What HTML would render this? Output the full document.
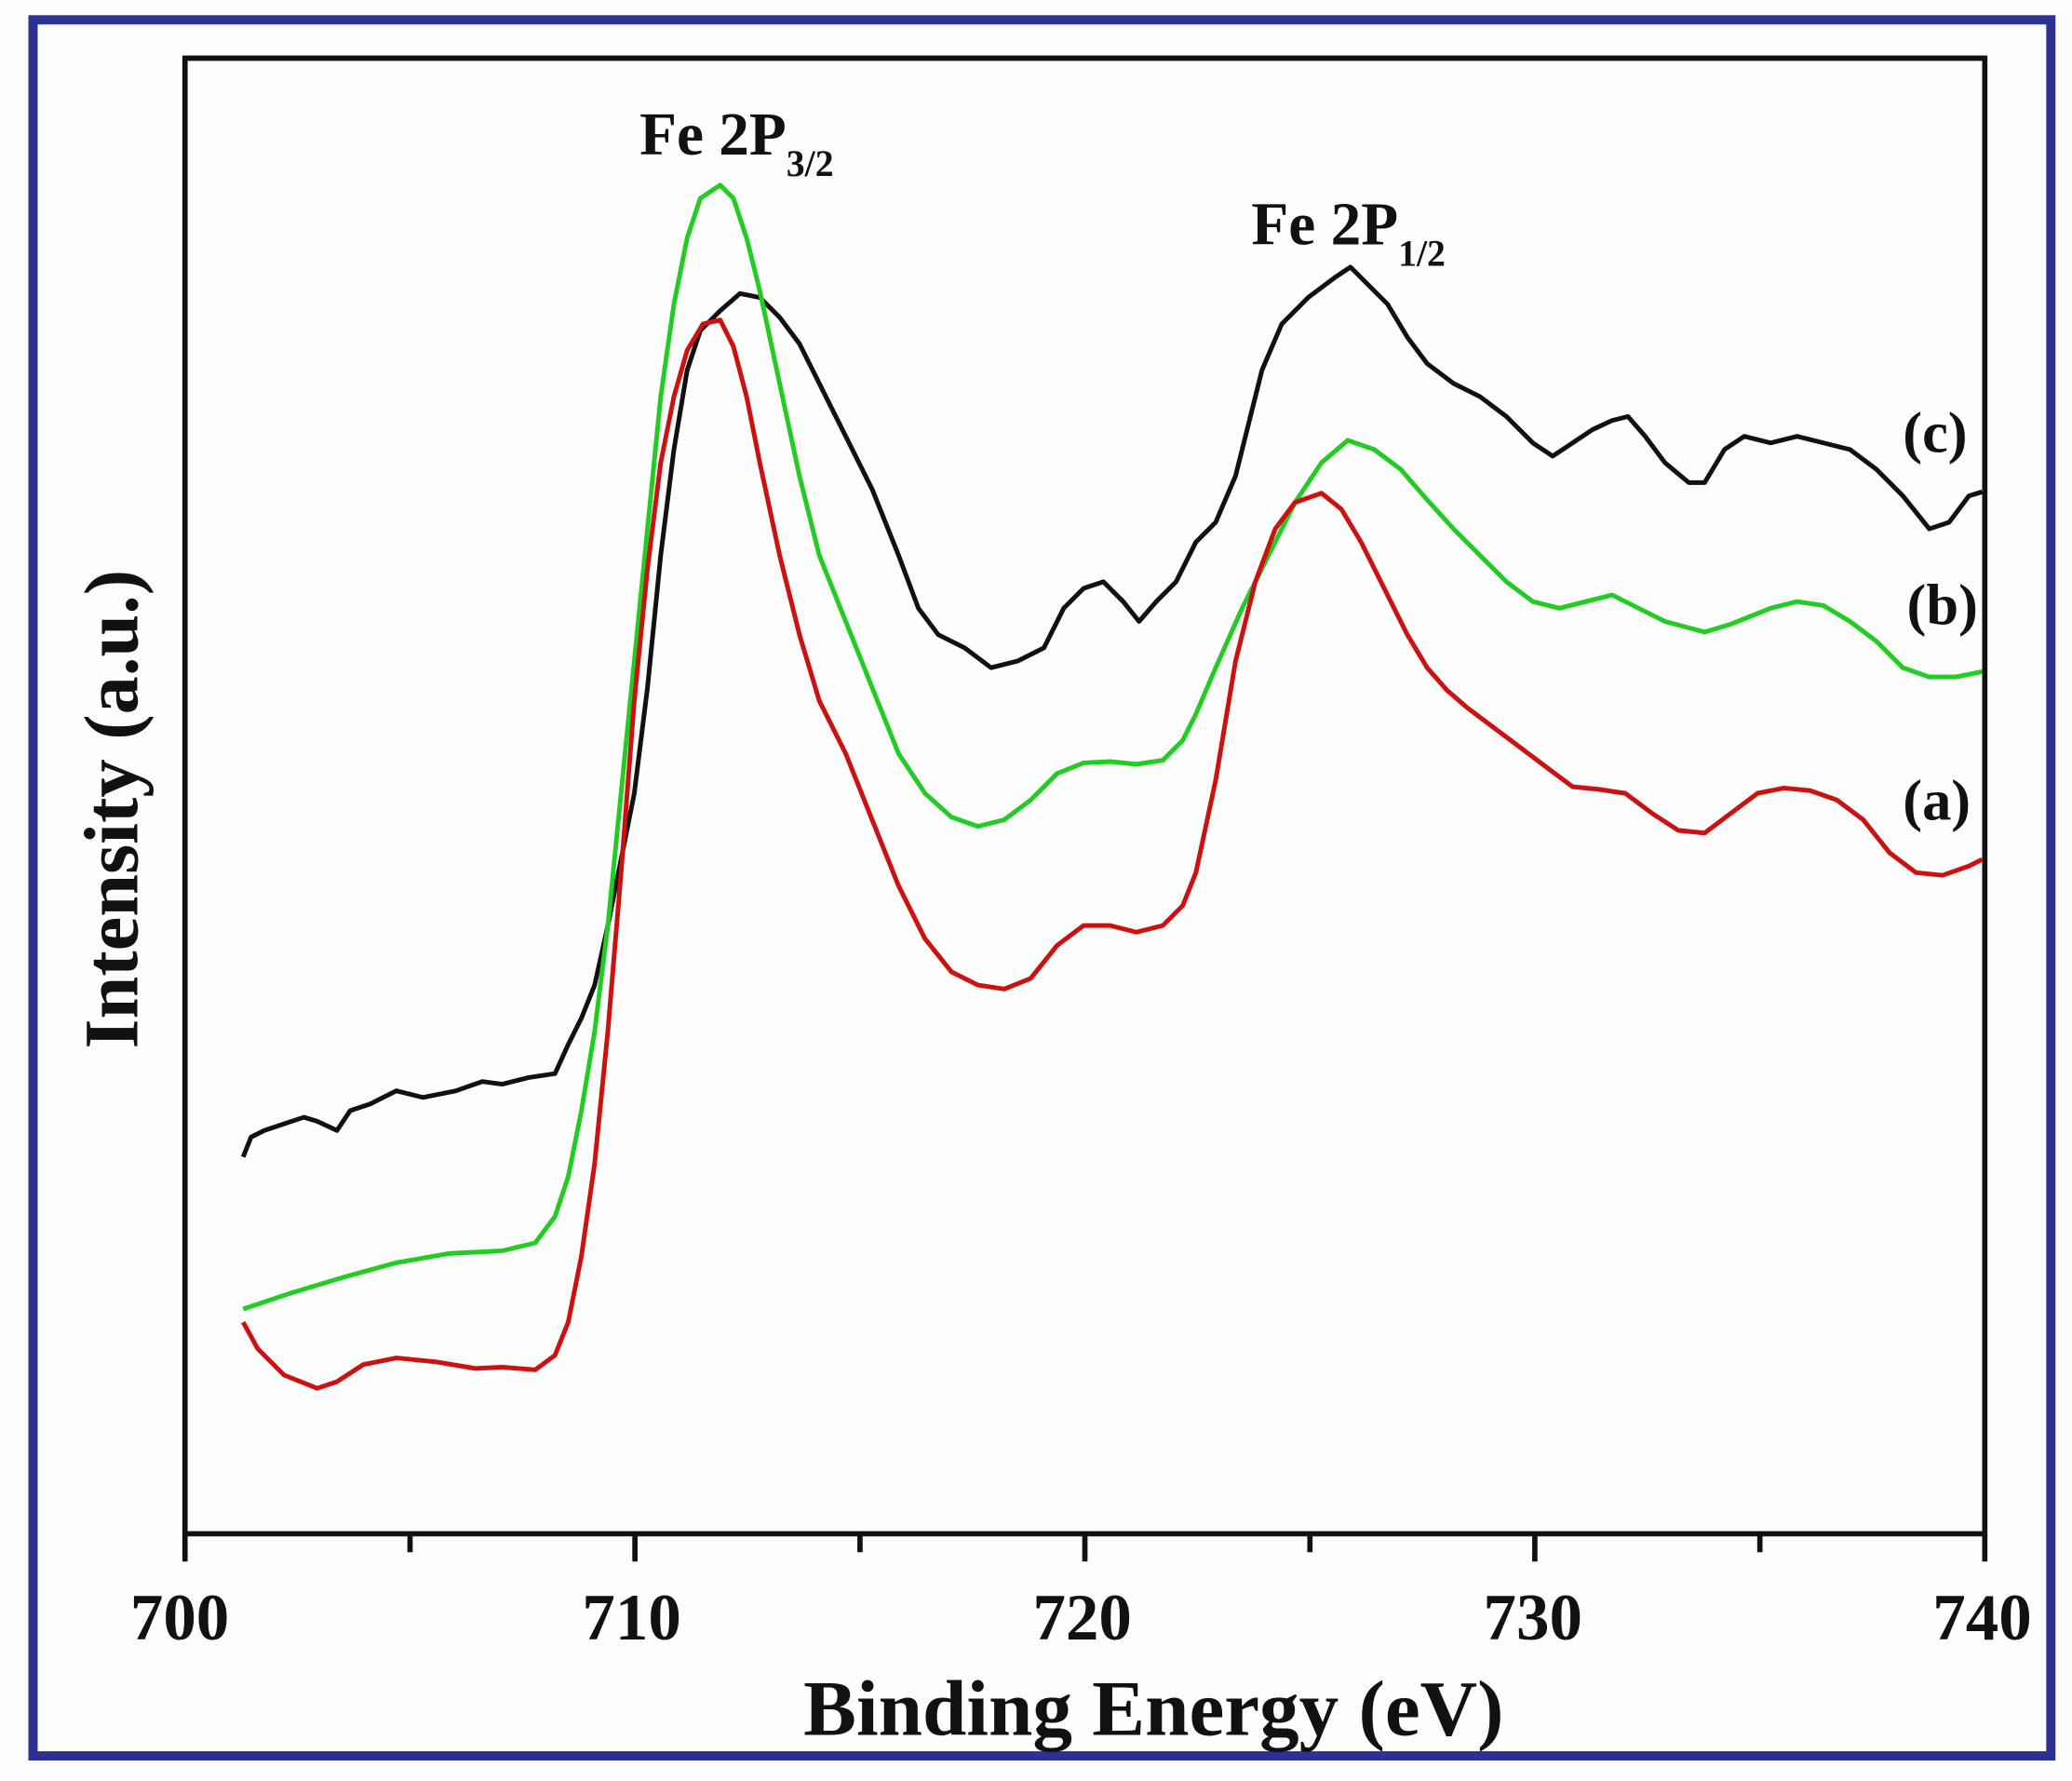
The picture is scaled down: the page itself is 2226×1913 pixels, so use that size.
<!DOCTYPE html>
<html><head><meta charset="utf-8"><style>
html,body{margin:0;padding:0;background:#fdfdfd}
svg{display:block}
text{font-family:"Liberation Serif",serif;font-weight:bold;fill:#111}
</style></head><body>
<svg width="2226" height="1913" viewBox="0 0 1568 1347" preserveAspectRatio="none">
<rect x="0" y="0" width="1568" height="1347" fill="#fdfdfd"/>
<rect x="25" y="15" width="1527" height="1313" fill="none" stroke="#2e3192" stroke-width="7"/>
<g stroke="#111" stroke-width="4" fill="none">
<path d="M140 44 H1502 V1160 H140 Z"/>
<path d="M140 1160V1181 M480.5 1160V1181 M821 1160V1181 M1161.5 1160V1181 M1502 1160V1181 M310.3 1160V1174 M650.8 1160V1174 M991.3 1160V1174 M1331.8 1160V1174"/>
</g>
<g stroke-width="3.5" fill="none" stroke-linejoin="round">
<polyline stroke="#111" points="184,875 190,860 200,855 215,850 230,845 240,848 255,855 265,840 280,835 300,825 320,830 345,825 365,818 380,820 400,815 420,812 430,790 440,770 450,745 460,700 470,650 480,600 490,520 500,420 510,340 520,280 530,250 545,235 560,222 575,225 590,240 605,260 620,290 640,330 660,370 680,420 695,460 710,480 730,490 750,505 770,500 790,490 805,460 820,445 835,440 850,455 862,470 875,455 890,440 905,410 920,395 935,360 945,320 955,280 970,245 990,225 1010,210 1022,202 1035,215 1050,230 1065,255 1080,275 1100,290 1120,300 1140,315 1160,335 1175,345 1190,335 1205,325 1220,318 1232,315 1245,330 1260,350 1278,365 1290,365 1305,340 1320,330 1340,335 1360,330 1380,335 1400,340 1420,355 1440,375 1460,400 1475,395 1490,375 1500,372"/>
<polyline stroke="#22cc22" points="184,990 220,978 260,966 300,955 340,948 380,946 405,940 420,920 430,890 440,840 450,780 460,700 470,600 480,500 490,400 500,300 510,230 520,180 530,150 545,140 555,150 565,180 575,220 590,290 605,360 620,420 640,470 660,520 680,570 700,600 720,618 740,625 760,620 780,605 800,585 820,577 840,576 860,578 880,575 895,560 905,540 920,505 940,460 960,420 980,380 1000,350 1020,333 1040,340 1060,355 1080,378 1100,400 1120,420 1140,440 1160,455 1180,460 1200,455 1220,450 1240,460 1260,470 1290,478 1310,472 1340,460 1360,455 1380,458 1400,470 1420,485 1440,505 1460,512 1480,512 1500,508"/>
<polyline stroke="#cc1111" points="184,1000 195,1020 215,1040 240,1050 255,1045 275,1032 300,1027 330,1030 360,1035 380,1034 405,1036 420,1025 430,1000 440,950 450,880 460,780 470,660 480,530 490,430 500,350 510,300 520,265 532,245 545,242 555,262 565,300 575,350 590,420 605,480 620,530 640,570 660,620 680,670 700,710 720,735 740,745 760,748 780,740 800,715 820,700 840,700 860,705 880,700 895,685 905,660 920,590 935,500 950,440 965,400 980,380 1000,373 1015,385 1030,410 1050,450 1065,480 1080,505 1095,522 1110,535 1130,550 1150,565 1170,580 1190,595 1210,597 1230,600 1250,615 1270,628 1290,630 1310,615 1330,600 1350,596 1370,598 1390,605 1410,620 1430,645 1450,660 1470,662 1490,655 1500,650"/>
</g>
<text x="484" y="117" font-size="46">Fe 2P<tspan font-size="28" dy="16">3/2</tspan></text>
<text x="947" y="185" font-size="46">Fe 2P<tspan font-size="28" dy="16">1/2</tspan></text>
<text x="1440" y="342" font-size="44">(c)</text>
<text x="1443" y="472" font-size="44">(b)</text>
<text x="1440" y="620" font-size="44">(a)</text>
<g font-size="50" text-anchor="middle">
<text x="136" y="1240">700</text><text x="478" y="1240">710</text><text x="819" y="1240">720</text><text x="1160" y="1240">730</text><text x="1500" y="1240">740</text>
</g>
<text x="873" y="1312" font-size="60" text-anchor="middle">Binding Energy (eV)</text>
<text x="0" y="0" font-size="58" text-anchor="middle" transform="translate(104,612) rotate(-90)">Intensity (a.u.)</text>
</svg>
</body></html>
